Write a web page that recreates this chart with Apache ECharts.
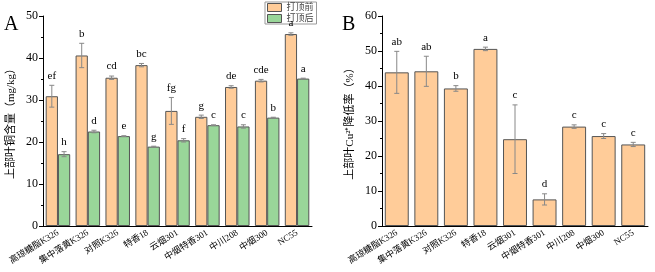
<!DOCTYPE html>
<html>
<head>
<meta charset="utf-8">
<script src="https://cdn.jsdelivr.net/npm/echarts@6/dist/echarts.min.js"></script>
<style>html,body{margin:0;padding:0;background:#fff}#c{width:655px;height:272px}</style>
</head>
<body>
<div id="c"></div>
<script>
const categories = ['高琼糖脂K326','集中落黄K326','对照K326','特香18','云烟301','中烟特香301','中川208','中烟300','NC55'];
const beforeVals = [30.9, 40.6, 35.3, 38.3, 27.4, 26.0, 33.1, 34.6, 45.7];
const beforeErr  = [2.6, 2.9, 0.4, 0.4, 3.2, 0.4, 0.3, 0.3, 0.3];
const beforeSig  = ['ef','b','cd','bc','fg','g','de','cde','a'];
const afterVals  = [17.1, 22.5, 21.4, 18.9, 20.4, 24.0, 23.7, 25.8, 35.1];
const afterErr   = [0.6, 0.3, 0.1, 0.1, 0.4, 0.1, 0.4, 0.1, 0.1];
const afterSig   = ['h','d','e','g','f','c','c','b','a'];
const rateVals   = [43.9, 44.2, 39.3, 50.6, 24.8, 7.6, 28.4, 25.7, 23.3];
const rateErr    = [6.0, 4.3, 0.8, 0.5, 9.8, 1.6, 0.5, 0.7, 0.6];
const rateSig    = ['ab','ab','b','a','c','d','c','c','c'];
const yTicksA = [0, 10, 20, 30, 40, 50];
const yTicksB = [0, 10, 20, 30, 40, 50, 60];

const SERIF = '"Liberation Serif","Times New Roman","Noto Sans CJK SC",serif';
const ORANGE = '#FFCC99';
const GREEN = '#99D699';
const EDGE = '#555555';

function errSeries(name, xi, vals, errs, sigs, offFrac) {
  return {
    type: 'custom', name: name, xAxisIndex: xi, yAxisIndex: xi, z: 5,
    data: vals.map((v, i) => [i, v, errs[i], sigs[i]]),
    renderItem: function (params, api) {
      const i = api.value(0), v = api.value(1), e = api.value(2);
      const cw = api.size([1, 0])[0];
      const base = api.coord([i, v]);
      const x = base[0] + cw * offFrac;
      const top = api.coord([i, v + e])[1];
      const bot = api.coord([i, v - e])[1];
      const cap = 2.5;
      const st = { stroke: '#888', lineWidth: 1 };
      return {
        type: 'group',
        children: [
          { type: 'line', shape: { x1: x, y1: top, x2: x, y2: bot }, style: st },
          { type: 'line', shape: { x1: x - cap, y1: top, x2: x + cap, y2: top }, style: st },
          { type: 'line', shape: { x1: x - cap, y1: bot, x2: x + cap, y2: bot }, style: st },
          { type: 'text', x: x, y: top - 4,
            style: { text: sigs[i], fill: '#000', font: '11px ' + SERIF, align: 'center', verticalAlign: 'bottom' } }
        ]
      };
    },
    tooltip: { show: false }
  };
}

function xAxisCfg(gi) {
  return {
    type: 'category', gridIndex: gi, data: categories,
    axisLine: { lineStyle: { color: '#000', width: 1 } },
    axisTick: { alignWithLabel: true, length: 3, lineStyle: { color: '#000' } },
    axisLabel: { rotate: 32, color: '#000', fontSize: 9, fontFamily: SERIF, margin: 6, interval: 0 }
  };
}
function yAxisCfg(gi, ticks, name) {
  return {
    type: 'value', gridIndex: gi, min: ticks[0], max: ticks[ticks.length - 1], interval: 10,
    name: name, nameLocation: 'middle', nameGap: 26, nameRotate: 90,
    nameTextStyle: { fontSize: 11, fontFamily: SERIF, color: '#000' },
    axisLine: { show: true, lineStyle: { color: '#000', width: 1 } },
    axisTick: { show: true, length: 4, lineStyle: { color: '#000' } },
    minorTick: { show: true, splitNumber: 2, length: 2, lineStyle: { color: '#000' } },
    splitLine: { show: false },
    axisLabel: { color: '#000', fontSize: 12, fontFamily: SERIF, margin: 5 }
  };
}

const chart = echarts.init(document.getElementById('c'), null, { renderer: 'canvas' });
chart.setOption({
  animation: false,
  backgroundColor: '#fff',
  grid: [
    { left: 43, right: 343, top: 16, bottom: 46 },
    { left: 382, right: 7, top: 16, bottom: 46 }
  ],
  legend: {
    data: ['打顶前', '打顶后'], orient: 'vertical', left: 265, top: 2, icon: 'rect',
    itemWidth: 14, itemHeight: 8, itemGap: 2, padding: [1, 3, 1, 2],
    borderColor: '#999', borderWidth: 1,
    itemStyle: { borderColor: EDGE, borderWidth: 1 },
    textStyle: { fontSize: 9, color: '#444', fontFamily: SERIF }
  },
  graphic: [
    { type: 'text', left: 4, top: 15, style: { text: 'A', font: '20px ' + SERIF, fill: '#000' } },
    { type: 'text', left: 342, top: 15, style: { text: 'B', font: '20px ' + SERIF, fill: '#000' } }
  ],
  xAxis: [xAxisCfg(0), xAxisCfg(1)],
  yAxis: [yAxisCfg(0, yTicksA, '上部叶铜含量（mg/kg）'), yAxisCfg(1, yTicksB, '上部叶Cu²⁺降低率（%）')],
  series: [
    { type: 'bar', name: '打顶前', xAxisIndex: 0, yAxisIndex: 0, data: beforeVals, barWidth: '41%', barGap: '0%',
      itemStyle: { color: ORANGE, borderColor: EDGE, borderWidth: 1 } },
    { type: 'bar', name: '打顶后', xAxisIndex: 0, yAxisIndex: 0, data: afterVals, barWidth: '41%', barGap: '0%',
      itemStyle: { color: GREEN, borderColor: EDGE, borderWidth: 1 } },
    errSeries('e1', 0, beforeVals, beforeErr, beforeSig, -0.205),
    errSeries('e2', 0, afterVals, afterErr, afterSig, 0.205),
    { type: 'bar', name: '降低率', xAxisIndex: 1, yAxisIndex: 1, data: rateVals, barWidth: '81%',
      itemStyle: { color: ORANGE, borderColor: EDGE, borderWidth: 1 } },
    errSeries('e3', 1, rateVals, rateErr, rateSig, 0)
  ]
});
</script>
</body>
</html>
